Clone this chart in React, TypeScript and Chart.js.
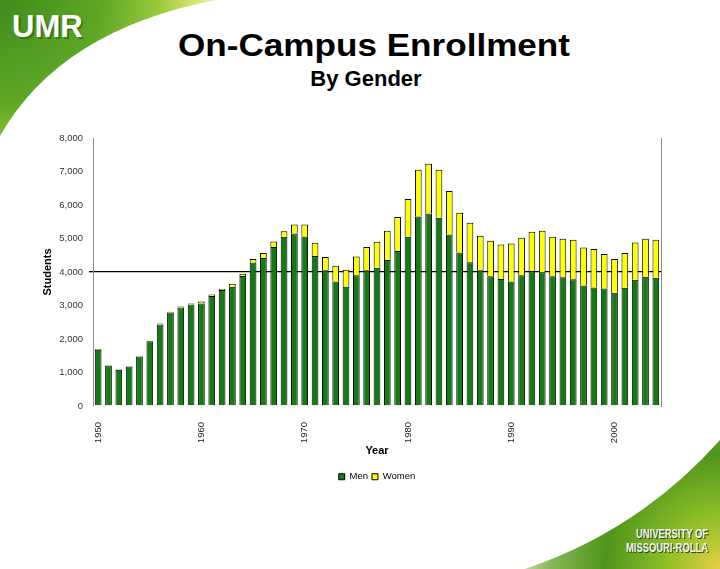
import React, { useEffect, useRef } from 'react';
import { Chart, registerables } from 'chart.js';

Chart.register(...registerables);

const years = [
  '1950', '1951', '1952', '1953', '1954', '1955', '1956', '1957', '1958', '1959',
  '1960', '1961', '1962', '1963', '1964', '1965', '1966', '1967', '1968', '1969',
  '1970', '1971', '1972', '1973', '1974', '1975', '1976', '1977', '1978', '1979',
  '1980', '1981', '1982', '1983', '1984', '1985', '1986', '1987', '1988', '1989',
  '1990', '1991', '1992', '1993', '1994', '1995', '1996', '1997', '1998', '1999',
  '2000', '2001', '2002', '2003', '2004',
];

const men = [
  1680, 1210, 1085, 1180, 1480, 1930, 2435, 2790, 2940, 3030,
  3060, 3280, 3460, 3560, 3880, 4280, 4420, 4750, 5050, 5150,
  5060, 4480, 4050, 3720, 3560, 3900, 4050, 4130, 4360, 4630,
  5050, 5660, 5750, 5620, 5120, 4580, 4290, 4050, 3870, 3790,
  3720, 3900, 4020, 3990, 3870, 3840, 3780, 3600, 3540, 3510,
  3380, 3530, 3770, 3860, 3830,
];

const women = [
  20, 10, 10, 10, 20, 20, 30, 20, 30, 30,
  60, 50, 30, 90, 70, 110, 150, 160, 170, 270,
  360, 390, 400, 470, 510, 560, 700, 770, 870, 1010,
  1130, 1390, 1480, 1430, 1300, 1190, 1180, 1030, 1060, 1030,
  1130, 1120, 1180, 1240, 1180, 1150, 1180, 1130, 1150, 1030,
  1010, 1040, 1110, 1130, 1130,
];

const yMax = 8000;
const yStep = 1000;
const targetLine = 4000;

const FONT = '"Liberation Sans", Arial, Helvetica, sans-serif';

const EnrollmentChart: React.FC = () => {
  const canvasRef = useRef<HTMLCanvasElement | null>(null);
  const chartRef = useRef<Chart | null>(null);

  useEffect(() => {
    if (!canvasRef.current) return;
    Chart.defaults.font.family = FONT;

    chartRef.current = new Chart(canvasRef.current, {
      type: 'bar',
      data: {
        labels: years,
        datasets: [
          {
            label: 'Men',
            data: men,
            backgroundColor: '#157a15',
            borderColor: '#000000',
            borderWidth: 1,
            barPercentage: 0.65,
            categoryPercentage: 1,
          },
          {
            label: 'Women',
            data: women,
            backgroundColor: '#ffff00',
            borderColor: '#000000',
            borderWidth: 1,
            barPercentage: 0.65,
            categoryPercentage: 1,
          },
        ],
      },
      options: {
        animation: false,
        responsive: false,
        layout: { padding: { left: 40, right: 59, top: 138, bottom: 77.5 } },
        plugins: {
          tooltip: { enabled: false },
          legend: {
            position: 'bottom',
            fullSize: false,
            labels: {
              boxWidth: 6,
              boxHeight: 6,
              padding: 4,
              color: '#000',
              font: { size: 9.5 },
            },
          },
        },
        scales: {
          x: {
            stacked: true,
            offset: true,
            grid: { display: false },
            border: { display: false },
            ticks: {
              autoSkip: false,
              minRotation: 90,
              maxRotation: 90,
              padding: 8,
              color: '#222',
              font: { size: 9.5 },
              callback: (_v: any, i: number) => (years[i].endsWith('0') ? years[i] : ''),
            },
            title: {
              display: true,
              text: 'Year',
              color: '#000',
              font: { size: 11, weight: 'bold' },
              padding: { top: 4, bottom: 10 },
            },
            afterFit: (s: any) => {
              s.height = 62;
            },
          },
          y: {
            stacked: true,
            min: 0,
            max: yMax,
            ticks: {
              stepSize: yStep,
              padding: 6,
              color: '#333',
              font: { size: 9.5 },
              callback: (v: any) => Number(v).toLocaleString('en-US'),
            },
            grid: {
              color: (ctx: any) => (ctx.tick && ctx.tick.value === targetLine ? '#000' : 'rgba(0,0,0,0)'),
              lineWidth: 1.3,
              tickLength: 4,
            },
            border: { color: '#8c8c8c', width: 1 },
            title: {
              display: true,
              text: 'Students',
              color: '#000',
              font: { size: 11, weight: 'bold' },
              padding: { top: 1, bottom: 0 },
            },
            afterFit: (s: any) => {
              s.width = 53;
            },
          },
          y2: {
            position: 'right',
            min: 0,
            max: yMax,
            grid: { drawOnChartArea: false, drawTicks: false },
            ticks: { display: false },
            border: { color: '#8c8c8c', width: 1 },
            afterFit: (s: any) => {
              s.width = 0;
            },
          },
        },
      },
    });

    return () => {
      if (chartRef.current) {
        chartRef.current.destroy();
        chartRef.current = null;
      }
    };
  }, []);

  return (
    <canvas
      ref={canvasRef}
      width={720}
      height={569}
      style={{ position: 'absolute', left: 0, top: 0, width: 720, height: 569 }}
    />
  );
};

// slide backdrop: green corner swooshes, logo texts and the headings
const Backdrop: React.FC = () => (
  <svg
    width={720}
    height={569}
    style={{ position: 'absolute', left: 0, top: 0 }}
    fontFamily={FONT}
  >
    <defs>
      <radialGradient id="tl" cx="0" cy="0" r="230" gradientUnits="userSpaceOnUse">
        <stop offset="0" stopColor="#3f8c1c" />
        <stop offset="0.45" stopColor="#5fa826" />
        <stop offset="0.7" stopColor="#9ccb3a" />
        <stop offset="0.85" stopColor="#dbe576" />
        <stop offset="1" stopColor="#f3f7d6" />
      </radialGradient>
      <radialGradient id="br" cx="720" cy="569" r="210" gradientUnits="userSpaceOnUse">
        <stop offset="0" stopColor="#e9cf45" />
        <stop offset="0.25" stopColor="#8fbf28" />
        <stop offset="0.55" stopColor="#4f951c" />
        <stop offset="0.8" stopColor="#86b456" />
        <stop offset="1" stopColor="#dbe9c6" />
      </radialGradient>
    </defs>
    <rect x={0} y={0} width={720} height={569} fill="#ffffff" />
    <path d="M0,0 H216 Q60,30 0,136 Z" fill="url(#tl)" />
    <path d="M720,440 Q640,530 525,569 H720 Z" fill="url(#br)" />

    <text x={14} y={39} fontSize={31} fontWeight="bold" fill="#2f5a12" opacity={0.6}>UMR</text>
    <text x={12} y={37} fontSize={31} fontWeight="bold" fill="#ffffff">UMR</text>

    <text x={709} y={539} fontSize={12} fontWeight="bold" fill="#2c4a12" textAnchor="end"
      textLength={72} lengthAdjust="spacingAndGlyphs">UNIVERSITY OF</text>
    <text x={708} y={538} fontSize={12} fontWeight="bold" fill="#f2f2f2" textAnchor="end"
      textLength={72} lengthAdjust="spacingAndGlyphs">UNIVERSITY OF</text>
    <text x={709} y={553} fontSize={12} fontWeight="bold" fill="#2c4a12" textAnchor="end"
      textLength={82} lengthAdjust="spacingAndGlyphs">MISSOURI-ROLLA</text>
    <text x={708} y={552} fontSize={12} fontWeight="bold" fill="#f2f2f2" textAnchor="end"
      textLength={82} lengthAdjust="spacingAndGlyphs">MISSOURI-ROLLA</text>

    <text x={374} y={56} fontSize={32} fontWeight="bold" fill="#000" textAnchor="middle"
      textLength={392} lengthAdjust="spacingAndGlyphs">On-Campus Enrollment</text>
    <text x={366} y={86} fontSize={22} fontWeight="bold" fill="#000" textAnchor="middle">By Gender</text>
  </svg>
);

const App: React.FC = () => (
  <div style={{ position: 'absolute', left: 0, top: 0, width: 720, height: 569, overflow: 'hidden' }}>
    <Backdrop />
    <EnrollmentChart />
  </div>
);

export default App;
